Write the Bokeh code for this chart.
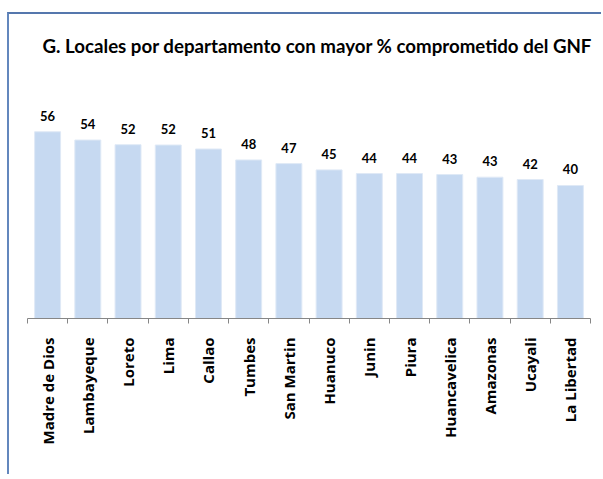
import numpy as np
from bokeh.plotting import figure
from bokeh.models import ColumnDataSource, Range1d, FixedTicker, LinearAxis
from bokeh.core.properties import value
from bokeh.embed import file_html
from bokeh.resources import INLINE

# ---- data ----
departamentos = ["Madre de Dios", "Lambayeque", "Loreto", "Lima", "Callao", "Tumbes",
                 "San Martin", "Huanuco", "Junin", "Piura", "Huancavelica", "Amazonas",
                 "Ucayali", "La Libertad"]
porcentaje = [56.3, 53.8, 52.4, 52.3, 51.1, 47.8, 46.7, 44.8, 43.7, 43.7, 43.4, 42.6, 41.9, 40.1]
titulo = "G. Locales por departamento con mayor % comprometido del GNF"

n = len(departamentos)
pos = list(np.arange(n) + 0.5)
etiquetas = [f"{v:.0f}" for v in porcentaje]

src = ColumnDataSource(dict(x=pos, y=porcentaje, lab=etiquetas))

# ---- layout (pixels) ----
W, H = 594, 462
ML, MR, MT, MB = 18, 13, 56, 158
PX_PER_UNIT = 3.317
YMAX = (H - MT - MB) / PX_PER_UNIT

p = figure(width=W, height=H, output_backend="svg", toolbar_location=None,
           x_range=Range1d(0, n), y_range=Range1d(0, YMAX),
           min_border_left=ML, min_border_right=MR, min_border_top=MT,
           min_border_bottom=MB, x_axis_location=None, y_axis_location=None)
# chart border (top and left edges only, as in the cropped original)
p.margin = (12, 0, 0, 7)
p.styles = {"border-top": "2px solid #5577ad", "border-left": "2px solid #6387bd"}

p.outline_line_color = None
p.grid.visible = False
p.background_fill_color = "white"
p.border_fill_color = "white"

p.title.text = titulo
p.title.text_font = "Lato"
p.title.text_font_style = "bold"
p.title.text_font_size = "18.7px"
p.title.align = "left"
p.title.offset = 15
p.title.standoff = 28
p.title.text_color = "black"

p.vbar(x="x", top="y", width=0.645, source=src, fill_color="#C6D9F1",
       line_color="#dfe9f6", line_width=1)

p.text(x="x", y="y", text="lab", source=src, text_align="center",
       text_baseline="alphabetic", y_offset=-16, text_font=value("Lato"),
       text_font_style="bold", text_font_size="13px", text_color="black")

ax = LinearAxis(ticker=FixedTicker(ticks=pos, minor_ticks=list(range(n + 1))))
ax.major_label_overrides = {float(x): d for x, d in zip(pos, departamentos)}
ax.major_label_orientation = np.pi / 2
ax.major_tick_out = 0
ax.major_tick_in = 0
ax.minor_tick_out = 5
ax.minor_tick_in = 0
ax.minor_tick_line_color = "#868686"
ax.axis_line_color = "#868686"
ax.major_label_standoff = 14
ax.major_label_text_font = "Open Sans"
ax.major_label_text_font_style = "bold"
ax.major_label_text_font_size = "15px"
ax.major_label_text_color = "black"
p.add_layout(ax, "below")

open("out.html", "w").write(file_html(p, INLINE))
